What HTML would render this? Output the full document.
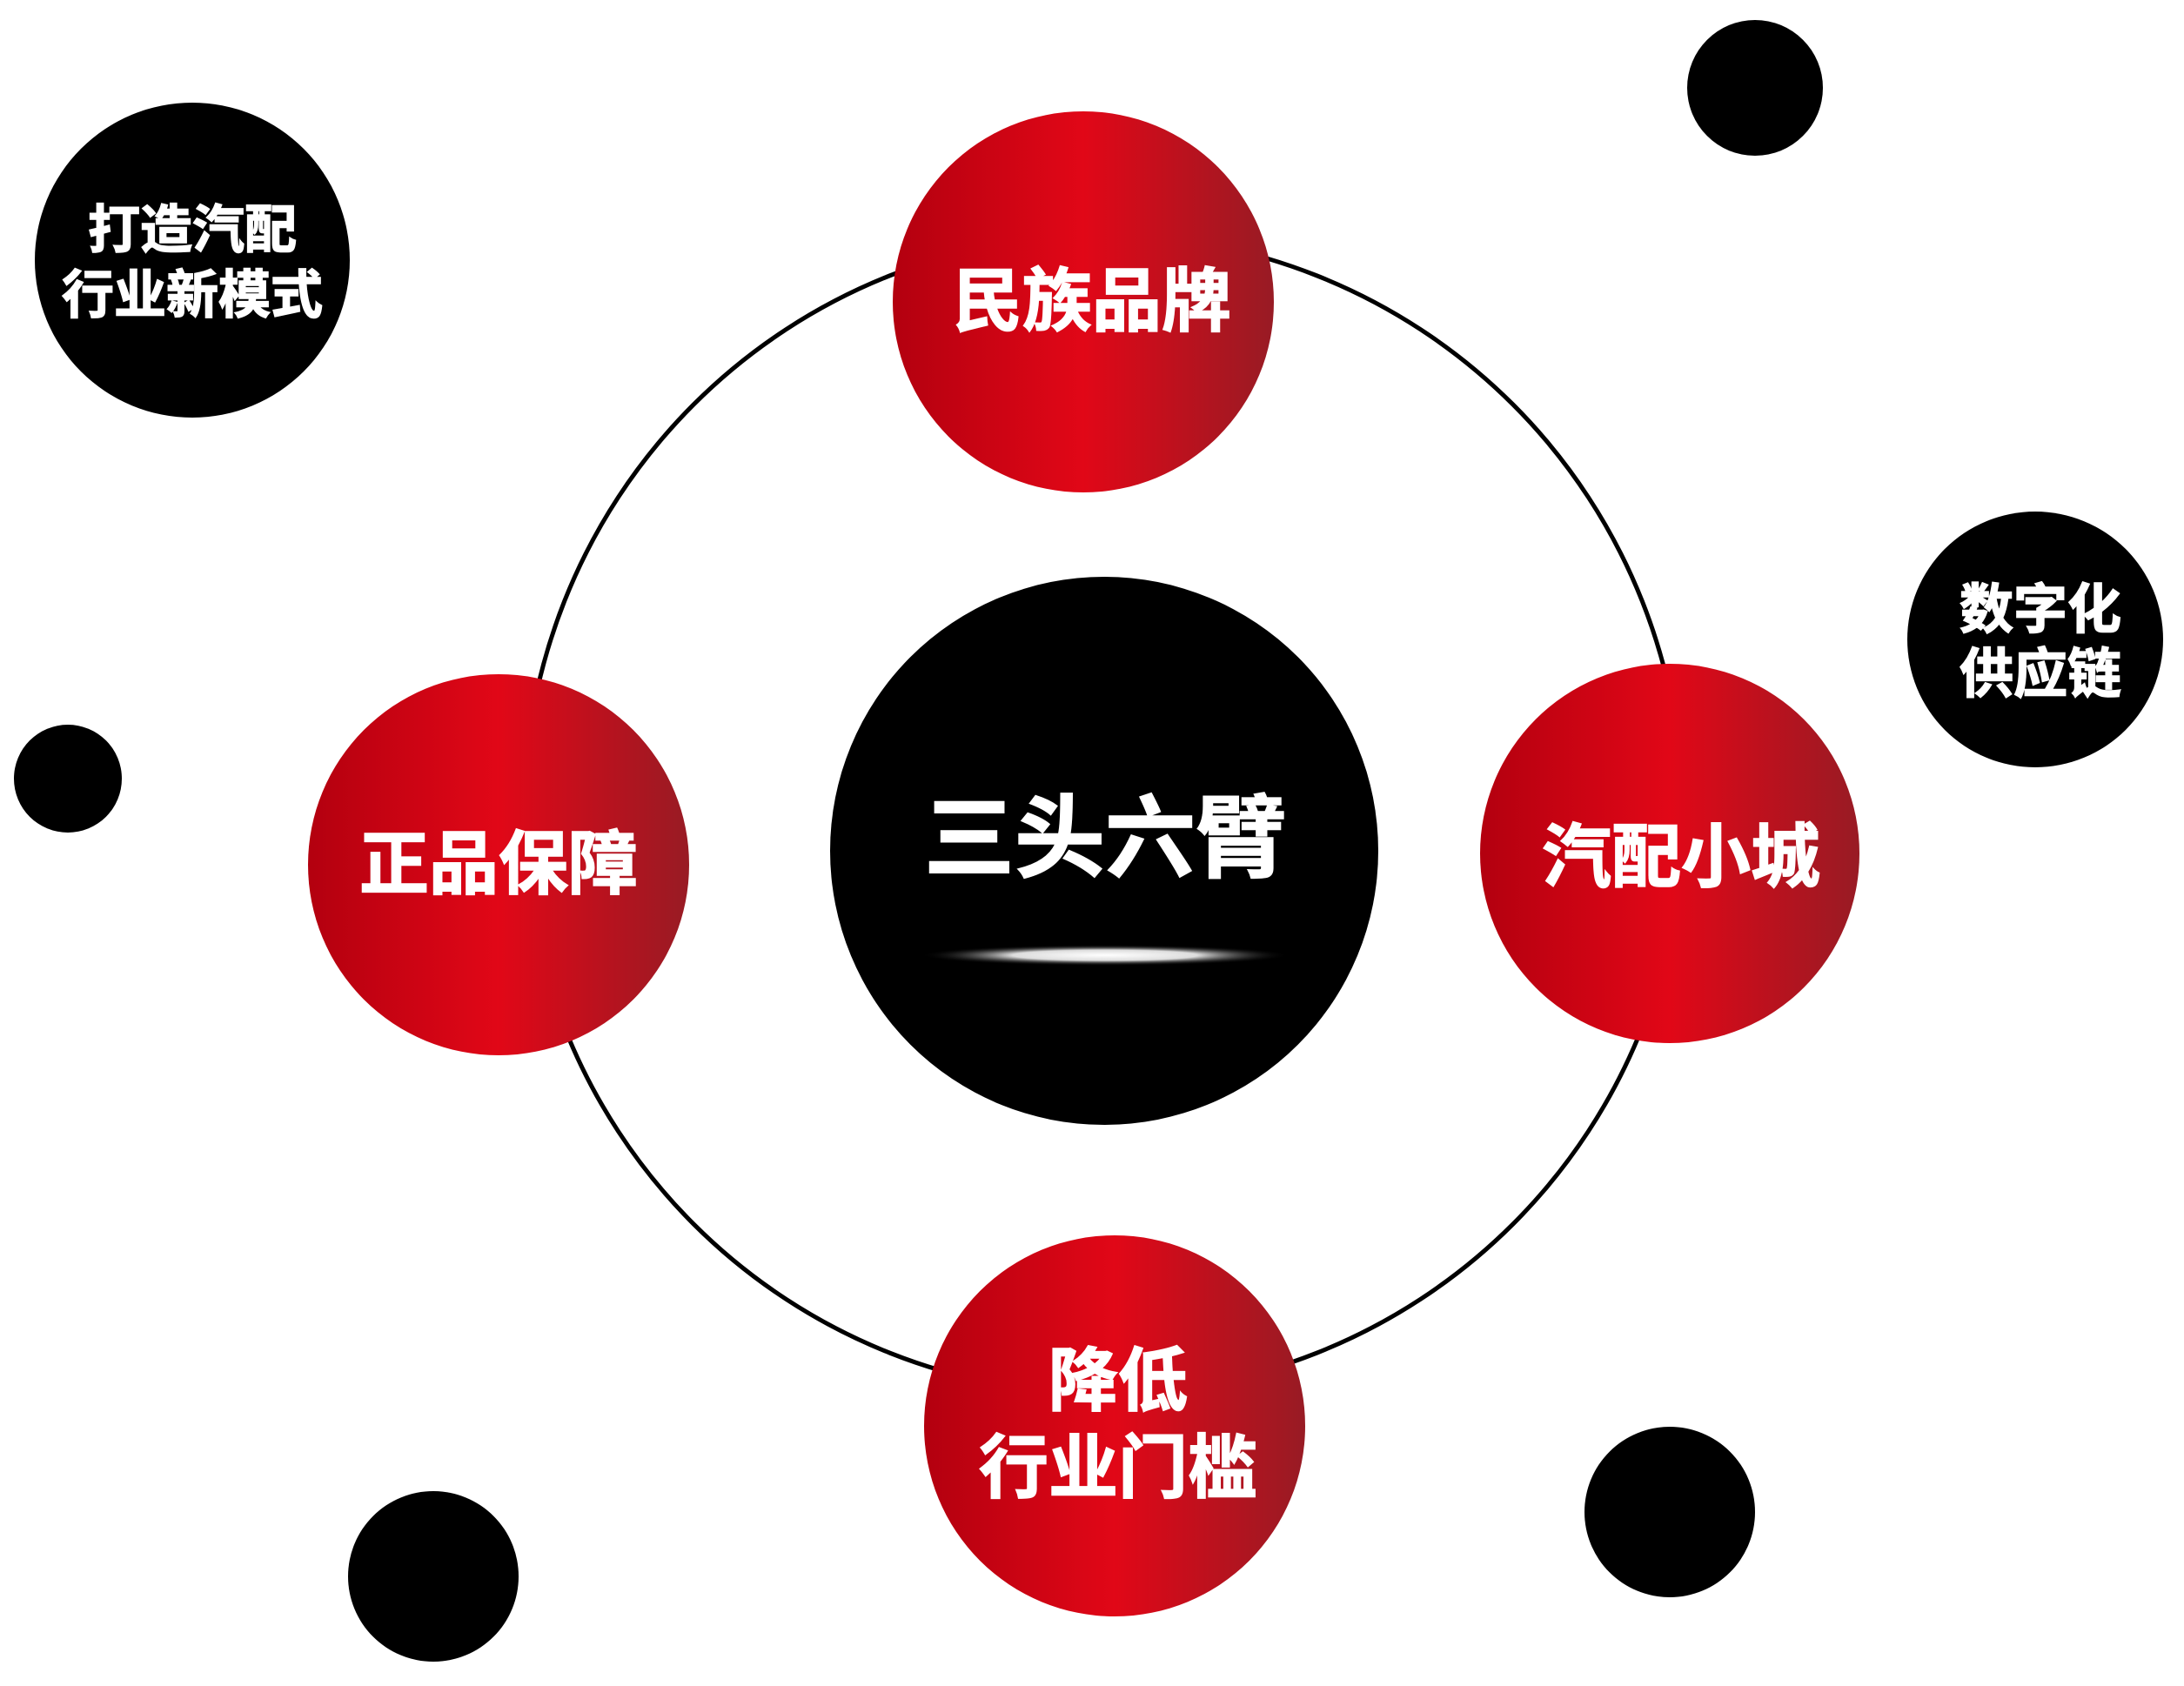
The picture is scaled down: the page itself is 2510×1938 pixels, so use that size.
<!DOCTYPE html>
<html><head><meta charset="utf-8"><style>
html,body{margin:0;padding:0;background:#fff}
svg{display:block}
text{font-family:"Liberation Sans","Noto Sans CJK SC",sans-serif;font-weight:bold;fill:#fff;text-anchor:middle;stroke:#fff;stroke-width:1.5}
</style></head><body>
<svg width="2510" height="1938" viewBox="0 0 2510 1938" xmlns="http://www.w3.org/2000/svg">
<defs>
<linearGradient id="rg" x1="0" y1="0" x2="1" y2="0">
<stop offset="0" stop-color="#b3000f"/>
<stop offset="0.5" stop-color="#e10717"/>
<stop offset="1" stop-color="#981b24"/>
</linearGradient>
<radialGradient id="streak" cx="0.5" cy="0.5" r="0.5">
<stop offset="0" stop-color="#fff"/>
<stop offset="0.5" stop-color="#ddd"/>
<stop offset="1" stop-color="#000" stop-opacity="0"/>
</radialGradient>
</defs>
<circle cx="1268" cy="936" r="666" fill="none" stroke="#000" stroke-width="5"/>
<circle cx="1269" cy="978" r="315" fill="#000"/>
<ellipse cx="1270" cy="1098" rx="212" ry="12" fill="url(#streak)"/>
<text x="1270" y="1000" font-size="104">三头六臂</text>

<circle cx="1245" cy="347" r="219" fill="url(#rg)"/>
<text x="1255" y="374" font-size="80">民族品牌</text>
<circle cx="573" cy="994" r="219" fill="url(#rg)"/>
<text x="573" y="1021" font-size="80">正品保障</text>
<circle cx="1919" cy="981" r="218" fill="url(#rg)"/>
<text x="1932" y="1013" font-size="80">汽配小城</text>
<circle cx="1281" cy="1639" r="219" fill="url(#rg)"/>
<text x="1285" y="1615" font-size="80">降低</text>
<text x="1285" y="1715" font-size="80">行业门槛</text>

<circle cx="221" cy="299" r="181" fill="#000"/>
<text x="221" y="285" font-size="60">打造汽配</text>
<text x="221" y="360" font-size="60">行业新模式</text>
<circle cx="2339" cy="735" r="147" fill="#000"/>
<text x="2345" y="722" font-size="62">数字化</text>
<text x="2345" y="796" font-size="62">供应链</text>

<circle cx="2017" cy="101" r="78" fill="#000"/>
<circle cx="78" cy="895" r="62" fill="#000"/>
<circle cx="498" cy="1812" r="98" fill="#000"/>
<circle cx="1919" cy="1738" r="98" fill="#000"/>
</svg>
</body></html>
